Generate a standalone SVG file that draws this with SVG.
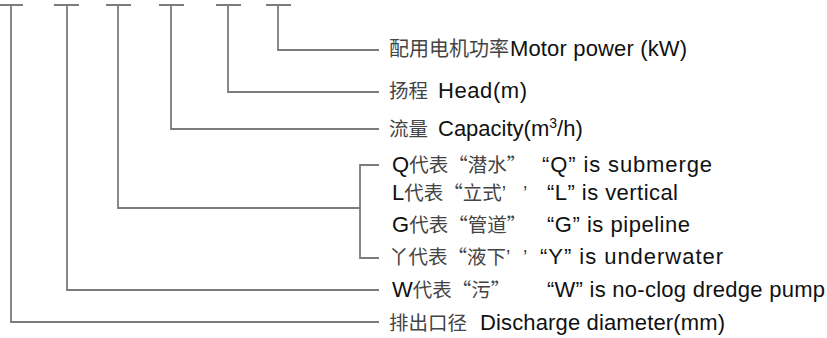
<svg xmlns="http://www.w3.org/2000/svg" width="827" height="338" viewBox="0 0 827 338">
<style>
.ln{fill:none;stroke:#7c7c7c;stroke-width:1.8;stroke-linejoin:miter;stroke-linecap:butt}
.t{font-family:"Liberation Sans","Noto Sans CJK SC",Arial,sans-serif;font-size:22px;fill:#111}
.c{font-family:"Noto Sans CJK SC",sans-serif;font-size:19.5px;fill:#444}
.q{font-family:"Liberation Sans",sans-serif;font-size:19.5px;fill:#444}
.sup{font-size:14px}
</style>
<rect width="827" height="338" fill="#fff"/>
<g id="connectors">
<path class="ln" d="M0 5H23M11 5V322H379"/>
<path class="ln" d="M54 5H79M67 5V290H379"/>
<path class="ln" d="M106 5H131M118 5V208H360M379 165H360V258H379"/>
<path class="ln" d="M159 5H184M171 5V129H379"/>
<path class="ln" d="M216 5H241M228 5V92H379"/>
<path class="ln" d="M266 5H291M278 5V50H379"/>
</g>
<g id="motor-power"><text class="t" y="56"><tspan class="c" x="389" style="font-size:20px">配用电机功率</tspan><tspan x="510" textLength="177" lengthAdjust="spacing">Motor power (kW)</tspan></text></g>
<g id="head"><text class="t" y="98"><tspan class="c" x="389">扬程</tspan><tspan x="438" textLength="89" lengthAdjust="spacing">Head(m)</tspan></text></g>
<g id="capacity"><text class="t" y="136"><tspan class="c" x="389">流量</tspan><tspan x="438">Capacity(m</tspan><tspan class="sup" dy="-8">3</tspan><tspan dy="8">/h)</tspan></text></g>
<g id="type-q"><text class="t" y="172"><tspan x="392">Q</tspan><tspan class="c">代表“潜水”</tspan><tspan x="542" textLength="170" lengthAdjust="spacing">“Q” is submerge</tspan></text></g>
<g id="type-l"><text class="t" y="200"><tspan x="392">L</tspan><tspan class="c">代表“立式</tspan><tspan class="q">’</tspan><tspan class="q" x="523">’</tspan><tspan x="547" textLength="131" lengthAdjust="spacing">“L” is vertical</tspan></text></g>
<g id="type-g"><text class="t" y="232"><tspan x="392">G</tspan><tspan class="c">代表“管道”</tspan><tspan x="547" textLength="143" lengthAdjust="spacing">“G” is pipeline</tspan></text></g>
<g id="type-y"><text class="t" y="264"><tspan class="c" x="389">丫代表“液下</tspan><tspan class="q">’</tspan><tspan class="q" x="523">’</tspan><tspan x="540" textLength="183" lengthAdjust="spacing">“Y” is underwater</tspan></text></g>
<g id="type-w"><text class="t" y="297"><tspan x="392">W</tspan><tspan class="c">代表“污”</tspan><tspan x="547" textLength="278" lengthAdjust="spacing">“W” is no-clog dredge pump</tspan></text></g>
<g id="discharge"><text class="t" y="330"><tspan class="c" x="389">排出口径</tspan><tspan x="480" textLength="245" lengthAdjust="spacing">Discharge diameter(mm)</tspan></text></g>
</svg>
